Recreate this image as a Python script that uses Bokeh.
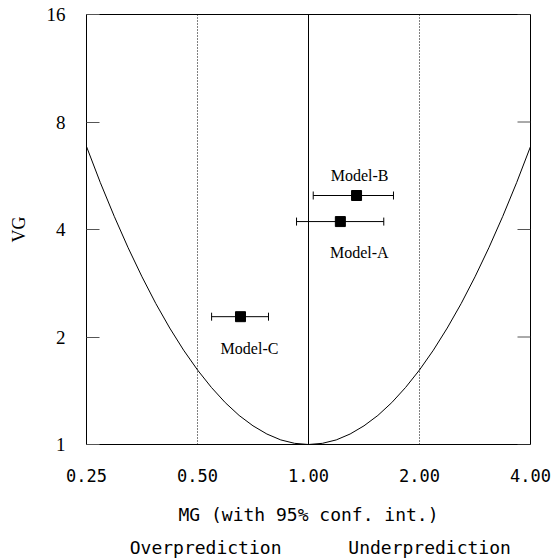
import numpy as np
from bokeh.plotting import figure
from bokeh.models import (LogAxis, FixedTicker, Span, Whisker, ColumnDataSource,
                          TeeHead, CustomJSTickFormatter)
from bokeh.core.properties import value
from bokeh.embed import file_html
from bokeh.resources import INLINE

# ---- data ----
models = ["Model-A", "Model-B", "Model-C"]
mg = [1.22, 1.35, 0.654]
mg_lo = [0.928, 1.03, 0.546]
mg_hi = [1.60, 1.70, 0.779]
vg = [4.21, 4.98, 2.28]

# minimum-VG reference curve (points along the parabola)
curve_mg = [0.25, 0.2726, 0.2973, 0.3242, 0.3536, 0.3855, 0.4204, 0.4585, 0.5,
            0.5453, 0.5946, 0.6484, 0.7071, 0.7711, 0.8409, 0.9170, 1.0,
            1.0905, 1.1892, 1.2968, 1.4142, 1.5422, 1.6818, 1.8340, 2.0,
            2.1810, 2.3784, 2.5937, 2.8284, 3.0844, 3.3636, 3.6680, 4.0]
curve_vg = [6.83, 5.41, 4.355, 3.556, 2.948, 2.480, 2.119, 1.837, 1.617,
            1.445, 1.310, 1.206, 1.128, 1.070, 1.030, 1.0075, 1.0,
            1.0075, 1.030, 1.070, 1.128, 1.206, 1.310, 1.445, 1.617,
            1.837, 2.119, 2.480, 2.948, 3.556, 4.355, 5.41, 6.83]

x_ticks = [0.25, 0.5, 1.0, 2.0, 4.0]
y_ticks = [1, 2, 4, 8, 16]
ref_lines = [0.5, 1.0, 2.0]

region_names = ["Overprediction", "Underprediction"]
region_pos = [0.526, 2.13]   # MG where each region caption is centred

# label offsets (styling, screen px)
label_dx = [19, 3, 9]
label_dy = [31, -20, 32]

MONO = "DejaVu Sans Mono"
SERIF = "Liberation Serif"

p = figure(width=553, height=560, x_axis_type="log", y_axis_type="log",
           x_range=(0.25, 4), y_range=(1, 16), output_backend="svg",
           toolbar_location=None, min_border_left=86, min_border_right=23,
           min_border_top=14, min_border_bottom=116)
p.background_fill_color = "white"
p.border_fill_color = "white"
p.outline_line_color = "black"
p.outline_line_width = 1
p.grid.visible = False

fmt2 = CustomJSTickFormatter(code="return tick.toFixed(2);")
fmt0 = CustomJSTickFormatter(code="return tick.toFixed(0);")

xa = p.xaxis[0]
xa.ticker = FixedTicker(ticks=x_ticks)
xa.formatter = fmt2
xa.major_tick_in = 0
xa.major_tick_out = 0
xa.minor_tick_line_color = None
xa.axis_line_color = None
xa.major_label_text_font = MONO
xa.major_label_text_font_size = "17px"
xa.major_label_text_color = "black"
xa.major_label_standoff = 24
xa.axis_label = "MG (with 95% conf. int.)"
xa.axis_label_text_font = MONO
xa.axis_label_text_font_size = "18px"
xa.axis_label_text_font_style = "normal"
xa.axis_label_text_color = "black"
xa.axis_label_standoff = 19

# second, tick-less axis below carrying the region captions
names_js = "{" + ",".join(f"'{v}':'{n}'" for v, n in zip(region_pos, region_names)) + "}"
ba = LogAxis(ticker=FixedTicker(ticks=region_pos),
             formatter=CustomJSTickFormatter(
                 code=f"const m = {names_js}; return m[String(tick)] || '';"),
             major_tick_in=0, major_tick_out=0, minor_tick_line_color=None,
             axis_line_color=None, major_label_text_font=MONO,
             major_label_text_font_size="18px", major_label_text_color="black",
             major_label_standoff=9)
p.add_layout(ba, "below")

ya = p.yaxis[0]
ya.ticker = FixedTicker(ticks=y_ticks)
ya.formatter = fmt0
ya.major_tick_in = 13
ya.major_tick_out = 0
ya.major_tick_line_color = "#555555"
ya.minor_tick_line_color = None
ya.axis_line_color = None
ya.major_label_text_font = SERIF
ya.major_label_text_font_size = "19px"
ya.major_label_text_color = "black"
ya.major_label_standoff = 21
ya.axis_label = "VG"
ya.axis_label_text_font = SERIF
ya.axis_label_text_font_size = "18px"
ya.axis_label_text_font_style = "normal"
ya.axis_label_text_color = "black"
ya.axis_label_standoff = 15

# right-side inward ticks
p.ray(x=[x_ticks[-1]] * len(y_ticks), y=y_ticks, length=13, length_units="screen",
      angle=np.pi, line_color="#555555", line_width=1)

for loc in ref_lines:
    dash = "solid" if loc == 1.0 else "1 2"
    p.add_layout(Span(location=loc, dimension="height", line_color="black",
                      line_width=1, line_dash=dash))

p.line(curve_mg, curve_vg, line_color="black", line_width=1)

src = ColumnDataSource(dict(mg=mg, lo=mg_lo, hi=mg_hi, vg=vg, name=models,
                            dx=label_dx, dy=label_dy))
p.add_layout(Whisker(source=src, base="vg", lower="lo", upper="hi",
                     dimension="width", line_color="black", line_width=1,
                     upper_head=TeeHead(size=8, line_color="black", line_width=1),
                     lower_head=TeeHead(size=8, line_color="black", line_width=1)))
p.scatter("mg", "vg", source=src, marker="square", size=10,
          fill_color="black", line_color="black")
p.text("mg", "vg", text="name", source=src, x_offset="dx", y_offset="dy",
       text_align="center", text_baseline="middle",
       text_font=value(SERIF), text_font_size="16px", text_color="black")

open("out.html", "w").write(file_html(p, INLINE))
